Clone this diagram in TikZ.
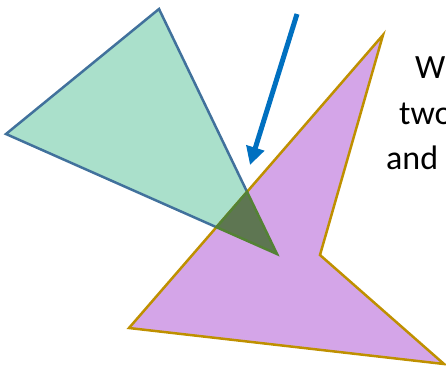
\documentclass[tikz,border=0pt]{standalone}
\usepackage{fontspec}
\setmainfont{Carlito}
\usetikzlibrary{arrows.meta}
\definecolor{TriFill}{HTML}{AAE0CB}
\definecolor{TriLine}{HTML}{41719C}
\definecolor{QuadFill}{HTML}{D4A5E8}
\definecolor{QuadLine}{HTML}{BF9000}
\definecolor{OverlapFill}{HTML}{5E7652}
\definecolor{OverlapLine}{HTML}{548235}
\definecolor{ArrowBlue}{HTML}{0070C0}

\begin{document}
\begin{tikzpicture}[x=1pt,y=-1pt,
  tri/.style={draw=TriLine,fill=TriFill,line width=2.5pt},
  quad/.style={draw=QuadLine,fill=QuadFill,line width=2.5pt},
  overlap/.style={draw=OverlapLine,fill=OverlapFill,line width=2.5pt},
  pointer/.style={-{Triangle[length=18pt,width=18pt]},draw=ArrowBlue,line width=5pt},
  caption/.style={font=\fontsize{34}{40}\selectfont,anchor=base west,inner sep=0pt}
]
\clip (0,0) rectangle (446,370);

% green triangle and purple shape
\coordinate (t1) at (159,9);
\coordinate (t2) at (6,134);
\coordinate (t3) at (277,254);
\coordinate (q1) at (129,328);
\coordinate (q2) at (383,35);
\coordinate (q3) at (320,255);
\coordinate (q4) at (444,364);
\draw[tri] (t1) -- (t2) -- (t3) -- cycle;
\draw[quad] (q1) -- (q2) -- (q3) -- (q4) -- cycle;

% where they overlap
\coordinate (o1) at (intersection of t1--t3 and q1--q2);
\coordinate (o2) at (intersection of t2--t3 and q1--q2);
\draw[overlap] (o1) -- (o2) -- (t3) -- cycle;

\coordinate (tail) at (297,14);
\coordinate (head) at (250,165);
\draw[pointer] (tail) -- (head);

\node[caption] (w1) at (415,78) {W};
\node[caption] (w2) at (399,124) {two};
\node[caption] (w3) at (386,169) {and};
\end{tikzpicture}
\end{document}
